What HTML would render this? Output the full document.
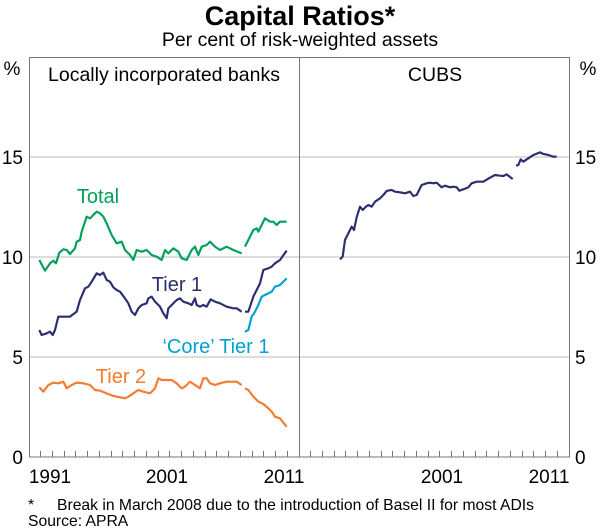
<!DOCTYPE html>
<html><head><style>
html,body{margin:0;padding:0;background:#fff;}
svg{display:block;font-family:"Liberation Sans",Arial,sans-serif;}
</style></head><body>
<svg width="600" height="529" viewBox="0 0 600 529" xmlns="http://www.w3.org/2000/svg">
<text x="300" y="25" text-anchor="middle" font-size="27" font-weight="bold" fill="#000">Capital Ratios*</text>
<text x="300" y="46" text-anchor="middle" font-size="19.5" fill="#000">Per cent of risk-weighted assets</text>
<g stroke="#c8c8c8" stroke-width="1.3">
<line x1="29" y1="157" x2="570" y2="157"/>
<line x1="29" y1="257" x2="570" y2="257"/>
<line x1="29" y1="357" x2="570" y2="357"/>
</g>
<g stroke="#777" stroke-width="1" fill="none">
<rect x="29.5" y="57.5" width="540" height="399.5"/>
<line x1="299.5" y1="57" x2="299.5" y2="457"/>
</g>
<g stroke="#777" stroke-width="1">
<path d="M40.5 451v6M52.5 451v6M64.5 451v6M75.5 451v6M87.5 451v6M99.5 451v6M111.5 451v6M122.5 451v6M134.5 451v6M146.5 451v6M158.5 451v6M169.5 451v6M181.5 451v6M193.5 451v6M205.5 451v6M216.5 451v6M228.5 451v6M240.5 451v6M252.5 451v6M263.5 451v6M275.5 451v6M287.5 451v6"/>
<path d="M310.5 451v6M322.5 451v6M334.5 451v6M345.5 451v6M357.5 451v6M369.5 451v6M381.5 451v6M392.5 451v6M404.5 451v6M416.5 451v6M428.5 451v6M439.5 451v6M451.5 451v6M463.5 451v6M475.5 451v6M486.5 451v6M498.5 451v6M510.5 451v6M522.5 451v6M533.5 451v6M545.5 451v6M557.5 451v6"/>
</g>
<g font-size="19" fill="#000">
<text x="12" y="75" text-anchor="middle">%</text>
<text x="588" y="75" text-anchor="middle">%</text>
<text x="164" y="81" text-anchor="middle" font-size="19.5">Locally incorporated banks</text>
<text x="435" y="81" text-anchor="middle" font-size="19.5">CUBS</text>
<text x="23" y="164" text-anchor="end">15</text>
<text x="23" y="264" text-anchor="end">10</text>
<text x="23" y="364" text-anchor="end">5</text>
<text x="23" y="464" text-anchor="end">0</text>
<text x="575" y="164">15</text>
<text x="575" y="264">10</text>
<text x="575" y="364">5</text>
<text x="575" y="464">0</text>
<text x="50" y="483" text-anchor="middle">1991</text>
<text x="167" y="483" text-anchor="middle">2001</text>
<text x="284" y="483" text-anchor="middle">2011</text>
<text x="442" y="483" text-anchor="middle">2001</text>
<text x="549" y="483" text-anchor="middle">2011</text>
<text x="98" y="203" text-anchor="middle" fill="#00a05a" font-size="20">Total</text>
<text x="177" y="291" text-anchor="middle" fill="#2b2f6e" font-size="20">Tier 1</text>
<text x="216" y="353" text-anchor="middle" fill="#00a0d0" font-size="20">‘Core’ Tier 1</text>
<text x="121" y="383" text-anchor="middle" fill="#f47b30" font-size="20">Tier 2</text>
</g>
<g font-size="15.7" fill="#000">
<text x="28" y="510">*</text>
<text x="57" y="510">Break in March 2008 due to the introduction of Basel II for most ADIs</text>
<text x="28" y="526">Source: APRA</text>
</g>
<g transform="translate(0,50) scale(0.33333)" fill="none" stroke-width="6.5" stroke-linejoin="round">
<polyline stroke="#00a05a" points="118,630 135,662 150,640 160,632 168,640 178,608 190,598 200,600 210,612 225,595 230,575 240,570 245,545 260,500 270,505 290,485 300,490 310,500 320,520 335,555 350,580 365,575 375,600 390,615 400,630 410,600 425,605 440,600 455,615 470,620 485,630 495,600 505,610 520,595 535,605 545,625 560,630 575,600 585,590 595,615 605,590 620,585 630,575 645,590 660,600 680,590 700,600 725,610"/>
<polyline stroke="#00a05a" points="735,590 750,560 760,540 770,535 775,545 785,525 795,505 810,515 820,515 830,525 840,515 860,515"/>
<polyline stroke="#2b2f6e" points="118,840 125,855 140,850 150,845 158,855 165,840 175,800 195,800 210,800 230,785 240,750 255,715 265,710 275,695 290,670 300,675 310,668 320,690 330,695 340,712 350,720 360,725 375,745 385,760 395,785 405,795 415,775 425,765 440,760 445,745 455,740 465,755 480,770 490,790 500,805 505,775 515,765 530,750 540,745 550,755 565,760 575,765 585,745 590,765 600,770 610,765 620,770 632,748 645,755 660,760 680,770 700,775 710,775 725,785"/>
<polyline stroke="#2b2f6e" points="735,785 745,785 760,740 770,720 780,700 790,660 805,655 815,650 825,640 840,630 860,602"/>
<polyline stroke="#00a0d0" points="735,845 745,840 755,800 765,785 775,765 785,740 795,735 805,730 815,725 825,710 840,705 860,685"/>
<polyline stroke="#f47b30" points="118,1012 130,1025 145,1005 160,998 175,1000 190,995 200,1015 215,1005 230,998 250,1000 270,1005 285,1020 300,1022 320,1030 340,1038 360,1042 375,1045 385,1040 400,1030 415,1020 430,1025 450,1030 465,1015 475,985 485,990 500,990 515,990 530,1000 545,1015 555,1010 570,995 585,1005 600,1015 610,985 620,985 630,1000 645,1005 660,1000 680,995 700,995 710,995 725,1005"/>
<polyline stroke="#f47b30" points="735,1015 745,1020 760,1040 775,1055 790,1062 805,1075 815,1085 825,1100 840,1105 850,1118 860,1130"/>
</g>
<g transform="translate(290,130) scale(0.33333)" fill="none" stroke="#2b2f6e" stroke-width="6.5" stroke-linejoin="round">
<polyline points="150,388 158,380 165,330 170,320 180,300 185,290 192,300 200,262 210,230 218,240 228,230 235,225 245,230 255,215 270,205 280,195 290,183 305,180 315,185 330,187 345,190 360,185 370,198 380,195 395,165 410,160 420,158 430,160 440,158 455,172 465,167 480,172 490,170 500,172 508,182 520,178 535,172 545,160 560,155 580,155 600,143 615,135 630,137 640,138 650,133 668,147"/>
<polyline points="678,107 685,105 692,88 700,95 715,85 730,75 750,67 760,72 775,75 790,80 800,80"/>
</g>
</svg>
</body></html>
